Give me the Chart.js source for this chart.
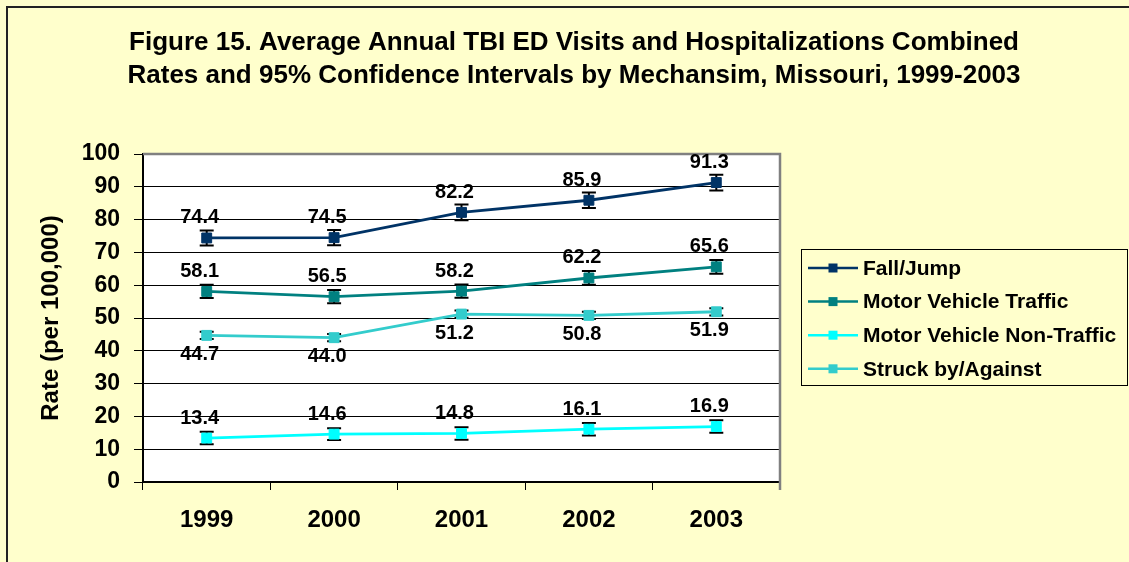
<!DOCTYPE html>
<html>
<head>
<meta charset="utf-8">
<script src="https://cdn.jsdelivr.net/npm/chart.js@4.4.1/dist/chart.umd.min.js"></script>
<style>
  body { margin: 0; background: #FFFFCC; }
</style>
</head>
<body>
<canvas id="chart" width="1129" height="562"></canvas>
<script>
// ---- data ----
const years = ['1999', '2000', '2001', '2002', '2003'];
const yTicks = [0, 10, 20, 30, 40, 50, 60, 70, 80, 90, 100];

const fallJump     = [74.4, 74.5, 82.2, 85.9, 91.3];
const fallJumpLow  = [72.1, 72.2, 79.8, 83.5, 88.9];
const fallJumpHigh = [76.7, 76.8, 84.6, 88.3, 93.7];

const mvTraffic     = [58.1, 56.5, 58.2, 62.2, 65.6];
const mvTrafficLow  = [56.1, 54.5, 56.2, 60.1, 63.5];
const mvTrafficHigh = [60.1, 58.5, 60.2, 64.3, 67.7];

const mvNonTraffic     = [13.4, 14.6, 14.8, 16.1, 16.9];
const mvNonTrafficLow  = [11.5, 12.8, 12.9, 14.2, 15.0];
const mvNonTrafficHigh = [15.3, 16.4, 16.7, 18.0, 18.8];

const struck     = [44.7, 44.0, 51.2, 50.8, 51.9];
const struckLow  = [43.6, 42.9, 50.1, 49.7, 50.8];
const struckHigh = [45.8, 45.1, 52.3, 51.9, 53.0];

const titleLines = [
  'Figure 15. Average Annual TBI ED Visits and Hospitalizations Combined',
  'Rates and 95% Confidence Intervals by Mechansim, Missouri, 1999-2003'
];

const FONT = '"Liberation Sans", Arial, sans-serif';
Chart.defaults.font.family = FONT;
Chart.defaults.color = '#000';

function series(label, data, low, high, color, labelPos) {
  return {
    label: label,
    data: data,
    errLow: low,
    errHigh: high,
    labelPos: labelPos,
    borderColor: color,
    backgroundColor: color,
    borderWidth: 2.8,
    pointStyle: 'rect',
    pointRadius: 7,
    pointBorderWidth: 1,
    pointBackgroundColor: color,
    pointBorderColor: color,
    tension: 0,
    fill: false
  };
}

// background, plot frame, error bars, value labels, title and legend
const decor = {
  id: 'decor',
  beforeDraw(chart) {
    const { ctx, chartArea: a } = chart;
    ctx.save();
    ctx.fillStyle = '#FFFFCC';
    ctx.fillRect(0, 0, chart.width, chart.height);
    ctx.fillStyle = '#FFFFFF';
    ctx.fillRect(a.left, a.top, a.right - a.left, a.bottom - a.top);
    ctx.strokeStyle = '#222';
    ctx.lineWidth = 2;
    ctx.strokeRect(7, 7, chart.width + 10, chart.height + 10);
    ctx.restore();
  },
  beforeDatasetsDraw(chart) {
    const { ctx, chartArea: a, scales: { y } } = chart;
    ctx.save();
    // grey top and right edge of the plot
    ctx.strokeStyle = '#808080';
    ctx.lineWidth = 2.5;
    ctx.beginPath();
    ctx.moveTo(a.left, a.top);
    ctx.lineTo(a.right, a.top);
    ctx.lineTo(a.right, a.bottom + 8);
    ctx.stroke();
    // error bars
    ctx.strokeStyle = '#000';
    ctx.lineWidth = 2;
    chart.data.datasets.forEach((ds, i) => {
      const meta = chart.getDatasetMeta(i);
      meta.data.forEach((pt, j) => {
        const y1 = y.getPixelForValue(ds.errLow[j]);
        const y2 = y.getPixelForValue(ds.errHigh[j]);
        ctx.beginPath();
        ctx.moveTo(pt.x, y1); ctx.lineTo(pt.x, y2);
        ctx.moveTo(pt.x - 7, y1); ctx.lineTo(pt.x + 7, y1);
        ctx.moveTo(pt.x - 7, y2); ctx.lineTo(pt.x + 7, y2);
        ctx.stroke();
      });
    });
    ctx.restore();
  },
  afterDatasetsDraw(chart) {
    const { ctx } = chart;
    ctx.save();
    ctx.font = 'bold 20px ' + FONT;
    ctx.fillStyle = '#000';
    ctx.textAlign = 'center';
    ctx.textBaseline = 'middle';
    chart.data.datasets.forEach((ds, i) => {
      const meta = chart.getDatasetMeta(i);
      meta.data.forEach((pt, j) => {
        const dy = ds.labelPos === 'below' ? 19 : -20;
        ctx.fillText(ds.data[j].toFixed(1), pt.x - 7, pt.y + dy);
      });
    });
    ctx.restore();
  },
  afterDraw(chart) {
    const { ctx } = chart;
    ctx.save();
    // title
    ctx.fillStyle = '#000';
    ctx.font = 'bold 26px ' + FONT;
    ctx.textAlign = 'center';
    ctx.textBaseline = 'middle';
    ctx.fillText(titleLines[0], 574, 43);
    ctx.fillText(titleLines[1], 574, 76);
    // legend
    ctx.fillStyle = '#FFFFCC';
    ctx.fillRect(801, 249, 327, 137);
    ctx.strokeStyle = '#000';
    ctx.lineWidth = 1;
    ctx.strokeRect(801.5, 249.5, 326, 136);
    ctx.font = 'bold 21px ' + FONT;
    ctx.textAlign = 'left';
    chart.data.datasets.forEach((ds, i) => {
      const cy = 268 + i * 33.6;
      ctx.strokeStyle = ds.borderColor;
      ctx.lineWidth = 2.5;
      ctx.beginPath();
      ctx.moveTo(808, cy); ctx.lineTo(858, cy);
      ctx.stroke();
      ctx.fillStyle = ds.borderColor;
      ctx.fillRect(828.5, cy - 4.5, 9, 9);
      ctx.fillStyle = '#000';
      ctx.fillText(ds.label, 863, cy + 1);
    });
    ctx.restore();
  }
};

new Chart(document.getElementById('chart'), {
  type: 'line',
  data: {
    labels: years,
    datasets: [
      series('Fall/Jump', fallJump, fallJumpLow, fallJumpHigh, '#003366', 'above'),
      series('Motor Vehicle Traffic', mvTraffic, mvTrafficLow, mvTrafficHigh, '#008080', 'above'),
      series('Motor Vehicle Non-Traffic', mvNonTraffic, mvNonTrafficLow, mvNonTrafficHigh, '#00FFFF', 'above'),
      series('Struck by/Against', struck, struckLow, struckHigh, '#33CCCC', 'below')
    ]
  },
  options: {
    responsive: false,
    animation: false,
    layout: { padding: { left: 20, right: 349, top: 154, bottom: 30 } },
    plugins: {
      legend: { display: false },
      title: { display: false },
      tooltip: { enabled: false }
    },
    scales: {
      x: {
        offset: true,
        grid: { offset: true, drawOnChartArea: false, drawTicks: true, tickLength: 8, color: '#000', lineWidth: 1 },
        border: { color: '#000', width: 2 },
        ticks: { font: { size: 24, weight: 'bold' }, color: '#000', padding: 16, maxRotation: 0 },
        afterFit(scale) { scale.height = 50; }
      },
      y: {
        min: 0,
        max: 100,
        afterBuildTicks(scale) { scale.ticks = yTicks.map(v => ({ value: v })); },
        grid: { color: '#000', lineWidth: 1, tickLength: 9, tickColor: '#000' },
        border: { color: '#000', width: 2 },
        ticks: { font: { size: 23, weight: 'bold' }, color: '#000', padding: 14 },
        title: {
          display: true,
          text: 'Rate (per 100,000)',
          font: { size: 24, weight: 'bold' },
          color: '#000',
          padding: { top: 17, bottom: 0 }
        },
        afterFit(scale) { scale.width = 123; }
      }
    }
  },
  plugins: [decor]
});
</script>
</body>
</html>
